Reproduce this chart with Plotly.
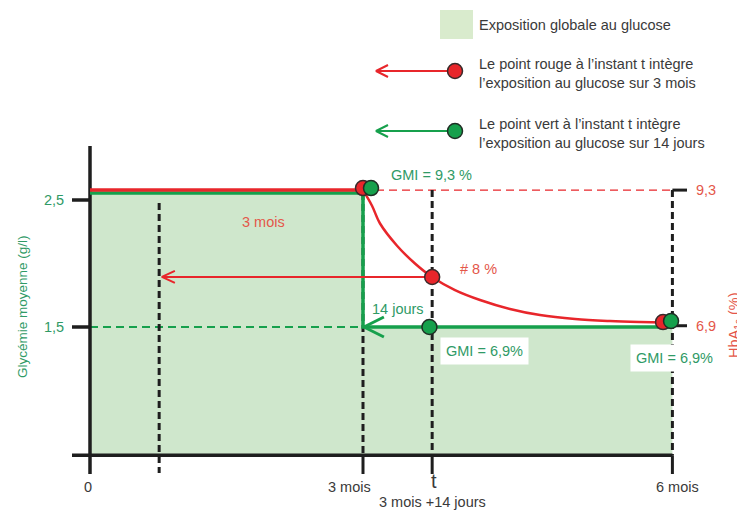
import plotly.graph_objects as go

# ---------------- data (schematic units: x in months, y in g/l) ----------------
x_tick_vals = [0.0, 3.0, 3.76, 6.4]
x_tick_labels = ["0", "3 mois", "t", "6 mois"]
window_start = 0.76          # t - 3 mois
gly_tick_vals = [2.5, 1.5]
gly_tick_labels = ["2,5", "1,5"]
gly_high = 2.555             # glycémie during first 3 months
gly_low = 1.5                # glycémie after 3 months
axis_base = 0.49
hba_levels_y = [2.578, 1.51]  # y-position of HbA1c 9,3 and 6,9
hba_labels = ["9,3", "6,9"]

# HbA1c (red) curve
red_x = [0.0, 3.0, 3.099, 3.187, 3.374, 3.571, 3.758, 4.011, 4.286, 4.615,
         4.945, 5.330, 5.714, 6.044, 6.297]
red_y = [2.578, 2.578, 2.455, 2.315, 2.140, 2.000, 1.894, 1.791, 1.713, 1.642,
         1.594, 1.563, 1.547, 1.539, 1.535]

red_pts_x = [3.0, 3.76, 6.297]
red_pts_y = [2.594, 1.894, 1.539]
green_pts_x = [3.088, 3.73, 6.385]
green_pts_y = [2.594, 1.5, 1.547]

# ---------------- styling ----------------
PAGE_W, PAGE_H, BODY = 745, 511, 8   # page body has an 8px margin
W, H = PAGE_W - BODY, PAGE_H - BODY
X0PX, PXX = 90, 91.0     # page pixel of x=0, px per unit
Y0PX, PXY = 200, 127.0   # page pixel of y=2.5, px per unit

RED = "#e8262b"
RED_T = "#e4574a"
GREEN = "#16a04c"
GREEN_T = "#2f9a66"
FILL = "#cfe7cc"
BLACK = "#1e1e1e"
GRAY = "#3a3a3a"
FONT = "Liberation Sans, Arial, sans-serif"
FS = 14.5


def PX(px):
    return (px - X0PX) / PXX


def PY(py):
    return 2.5 - (py - Y0PX) / PXY


XR = [PX(BODY), PX(PAGE_W)]
YR = [PY(PAGE_H), PY(BODY)]

fig = go.Figure()


def line(xs, ys, color, width, dash="solid"):
    fig.add_trace(go.Scatter(x=xs, y=ys, mode="lines", hoverinfo="skip",
                             line=dict(color=color, width=width, dash=dash),
                             showlegend=False))


# green exposure area (step)
fig.add_trace(go.Scatter(
    x=[x_tick_vals[0], x_tick_vals[0], x_tick_vals[1], x_tick_vals[1], x_tick_vals[3], x_tick_vals[3]],
    y=[axis_base, gly_high, gly_high, gly_low, gly_low, axis_base],
    fill="toself", fillcolor=FILL, line=dict(width=0), mode="lines",
    hoverinfo="skip", showlegend=False))

# dashed reference lines
line([x_tick_vals[0], x_tick_vals[1]], [gly_low, gly_low], GREEN, 1.8, "8px,5px")
line([x_tick_vals[1], x_tick_vals[3]], [hba_levels_y[0], hba_levels_y[0]], RED, 1.4, "8px,5px")

BLK_DASH = "7px,4px"
line([window_start, window_start], [PY(203), PY(473)], BLACK, 3, BLK_DASH)
line([x_tick_vals[1], x_tick_vals[1]], [gly_high, axis_base], BLACK, 3, BLK_DASH)
line([x_tick_vals[2], x_tick_vals[2]], [hba_levels_y[0], axis_base], BLACK, 3, BLK_DASH)
line([x_tick_vals[3], x_tick_vals[3]], [hba_levels_y[0], axis_base], BLACK, 3, BLK_DASH)

# right-hand HbA1c ticks
for yv in hba_levels_y:
    line([x_tick_vals[3], PX(687)], [yv, yv], BLACK, 3)

# axes
line([x_tick_vals[0], x_tick_vals[0]], [PY(146), PY(474)], BLACK, 3.5)
line([PX(72), x_tick_vals[3]], [axis_base, axis_base], BLACK, 3.5)
for yv in gly_tick_vals:
    line([PX(72), x_tick_vals[0]], [yv, yv], BLACK, 3.5)
for xv in x_tick_vals[1:]:
    line([xv, xv], [axis_base, PY(474)], BLACK, 3)

# green glycémie line
line([x_tick_vals[0], x_tick_vals[1], x_tick_vals[1], x_tick_vals[3]],
     [gly_high, gly_high, gly_low, gly_low], GREEN, 3.5)
# red HbA1c curve
fig.add_trace(go.Scatter(x=red_x[:2], y=red_y[:2], mode="lines", hoverinfo="skip",
                         line=dict(color=RED, width=3.5), showlegend=False))
fig.add_trace(go.Scatter(x=red_x[1:], y=red_y[1:], mode="lines", hoverinfo="skip",
                         line=dict(color=RED, width=2.5, shape="spline"), showlegend=False))


def chevron(tx, ty, lpx, hpx, color, width):
    line([tx + lpx / PXX, tx, tx + lpx / PXX], [ty + hpx / PXY, ty, ty - hpx / PXY], color, width)


# red arrow: HbA1c at t integrates last 3 months
line([red_pts_x[1], window_start + 0.03], [red_pts_y[1], red_pts_y[1]], RED, 2)
chevron(window_start + 0.03, red_pts_y[1], 13, 6, RED, 2)
# green arrow: 14 days
chevron(x_tick_vals[1] + 0.01, gly_low, 20, 10, GREEN, 3)

# markers
for i in range(len(red_pts_x)):
    fig.add_trace(go.Scatter(x=[red_pts_x[i]], y=[red_pts_y[i]], mode="markers", hoverinfo="skip",
                             marker=dict(size=15, color=RED, line=dict(color="#3a2a2a", width=1.5)),
                             showlegend=False))
    fig.add_trace(go.Scatter(x=[green_pts_x[i]], y=[green_pts_y[i]], mode="markers", hoverinfo="skip",
                             marker=dict(size=15, color=GREEN, line=dict(color="#1f2f25", width=1.5)),
                             showlegend=False))

# ---------------- legend (drawn) ----------------
line([PX(376), PX(448)], [PY(71), PY(71)], RED, 2)
chevron(PX(376), PY(71), 12, 6, RED, 2)
line([PX(376), PX(448)], [PY(131), PY(131)], GREEN, 2)
chevron(PX(376), PY(131), 12, 6, GREEN, 2)
fig.add_trace(go.Scatter(x=[PX(455)], y=[PY(71)], mode="markers", hoverinfo="skip",
                         marker=dict(size=15, color=RED, line=dict(color="#3a2a2a", width=1.5)),
                         showlegend=False))
fig.add_trace(go.Scatter(x=[PX(455)], y=[PY(131)], mode="markers", hoverinfo="skip",
                         marker=dict(size=15, color=GREEN, line=dict(color="#1f2f25", width=1.5)),
                         showlegend=False))

shapes = [dict(type="rect", xref="x", yref="y", x0=PX(440), x1=PX(473), y0=PY(10), y1=PY(39),
               fillcolor="#d9ebcd", line=dict(width=0), layer="below")]

ann = []


def text(xpx, ypx, s, color=GRAY, size=FS, xanchor="center", bg=None, angle=0, pad=1):
    d = dict(x=PX(xpx), y=PY(ypx), xref="x", yref="y", text=s, showarrow=False,
             font=dict(family=FONT, size=size, color=color), xanchor=xanchor,
             yanchor="middle", textangle=angle, borderpad=pad)
    if bg:
        d["bgcolor"] = bg
    ann.append(d)


text(477, 25, "Exposition globale au glucose", xanchor="left")
text(477, 64, "Le point rouge à l’instant t intègre", xanchor="left")
text(477, 83, "l’exposition au glucose sur 3 mois", xanchor="left")
text(477, 124, "Le point vert à l’instant t intègre", xanchor="left")
text(477, 143, "l’exposition au glucose sur 14 jours", xanchor="left")

text(263, 222, "3 mois", RED_T, FS)
text(431, 175, "GMI = 9,3 %", GREEN_T, FS)
text(478, 269, "# 8 %", RED_T, FS)
text(398, 309, "14 jours", GREEN_T, FS)
text(484, 351, "GMI = 6,9%", GREEN_T, FS, bg="white", pad=5)
text(674, 358, "GMI = 6,9%", GREEN_T, FS, bg="white", pad=5)

for yv, lab in zip(hba_levels_y, hba_labels):
    ann.append(dict(x=PX(706), y=yv, xref="x", yref="y", text=lab, showarrow=False,
                    font=dict(family=FONT, size=FS, color=RED_T), yanchor="middle"))
text(735, 325, "HbA<sub>1c</sub> (%)", RED_T, FS, angle=-90)
text(22, 307, "Glycémie moyenne (g/l)", GREEN_T, 13.5, angle=-90)

for yv, lab in zip(gly_tick_vals, gly_tick_labels):
    ann.append(dict(x=PX(54), y=yv, xref="x", yref="y", text=lab, showarrow=False,
                    font=dict(family=FONT, size=FS, color=GREEN_T), yanchor="middle"))

xshifts = [-2, -14, 2, 5]
for xv, lab, sh in zip(x_tick_vals, x_tick_labels, xshifts):
    big = lab == "t"
    ann.append(dict(x=xv, y=PY(481 if big else 487), xref="x", yref="y", text=lab, showarrow=False,
                    xshift=sh, font=dict(family=FONT, size=20 if big else FS, color=GRAY),
                    yanchor="middle"))
ann.append(dict(x=x_tick_vals[2], y=PY(502), xref="x", yref="y", text="3 mois +14 jours",
                showarrow=False, font=dict(family=FONT, size=FS, color=GRAY), yanchor="middle"))

fig.update_layout(
    width=W, height=H, margin=dict(l=0, r=0, t=0, b=0),
    paper_bgcolor="white", plot_bgcolor="white",
    xaxis=dict(range=XR, visible=False, fixedrange=True),
    yaxis=dict(range=YR, visible=False, fixedrange=True),
    shapes=shapes, annotations=ann, showlegend=False,
)

fig.write_html("out.html")
